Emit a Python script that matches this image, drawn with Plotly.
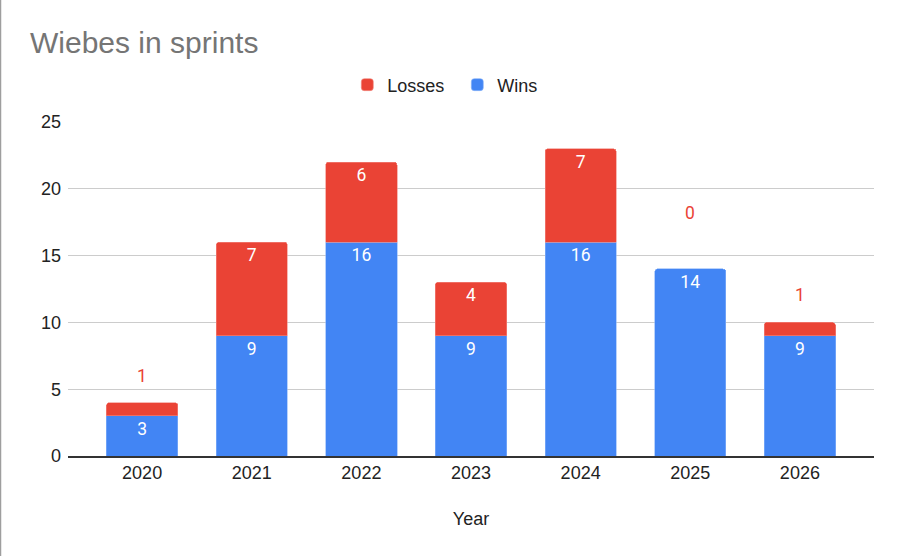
import plotly.graph_objects as go

# Wiebes sprint record per year
years = ["2020", "2021", "2022", "2023", "2024", "2025", "2026"]
wins = [3, 9, 16, 9, 16, 14, 9]
losses = [1, 7, 6, 4, 7, 0, 1]

blue = "#4285F4"
red = "#EA4335"
sans = "Liberation Sans, Arial, sans-serif"

# big loss segments get their label inside, small ones go above the bar
loss_text = [str(v) if v > 1 else "" for v in losses]

fig = go.Figure()
fig.add_trace(go.Bar(
    x=years, y=wins, name="Wins",
    marker=dict(color=blue, line=dict(color="#8ab4f8", width=0.6)),
    text=[str(v) for v in wins], textposition="inside", insidetextanchor="end",
    textfont=dict(color="white", size=17.5, family="Roboto"), textangle=0,
))
fig.add_trace(go.Bar(
    x=years, y=losses, name="Losses",
    marker=dict(color=red, line=dict(color="#f28b82",
                                     width=[0.6 if v > 0 else 0 for v in losses])),
    text=loss_text, textposition="inside", insidetextanchor="end",
    textfont=dict(color="white", size=17.5, family="Roboto"), textangle=0,
))

# labels above the stack for the tiny loss counts
# (category axis: position by index)
for i, (w, l) in enumerate(zip(wins, losses)):
    if l <= 1:
        fig.add_annotation(
            x=i, y=w + l, xref="x", yref="y",
            text=str(l), showarrow=False,
            yshift=27 if l > 0 else 56,
            font=dict(color=red, size=17.5, family="Roboto"),
        )

fig.update_layout(
    width=900, height=556,
    barmode="stack", bargap=0.35, barcornerradius=3,
    font=dict(family=sans, color="#222222", size=18),
    title=dict(text="Wiebes in sprints", x=30 / 900, xanchor="left",
               y=1 - 42 / 556, yanchor="middle",
               font=dict(size=30, color="#757575")),
    legend=dict(orientation="h", x=0.483, xanchor="center", y=1.111, yanchor="middle",
                traceorder="reversed", font=dict(size=18),
                entrywidth=65, entrywidthmode="pixels"),
    margin=dict(l=68, r=26, t=122, b=100),
    plot_bgcolor="white", paper_bgcolor="white",
    showlegend=True,
)
fig.update_xaxes(
    type="category", range=[-0.676, 6.676], showgrid=False, ticks="", showline=True,
    linecolor="#333333", linewidth=1.5,
    title=dict(text="Year", standoff=30, font=dict(size=18)),
)
fig.update_yaxes(
    range=[0, 25], dtick=5, showgrid=True, gridcolor="#cccccc", gridwidth=1,
    zeroline=False, ticks="", ticklabelstandoff=6,
)

# grey edge on the left of the card
fig.add_shape(type="line", xref="paper", yref="paper",
              x0=-67.5 / 806, x1=-67.5 / 806, y0=-100 / 334, y1=1 + 122 / 334,
              line=dict(color="#9e9e9e", width=1.5))

# page body margin would push the figure off the photo
fig.write_html("out.html", config={"displayModeBar": False},
               post_script="document.body.style.margin='0';")
